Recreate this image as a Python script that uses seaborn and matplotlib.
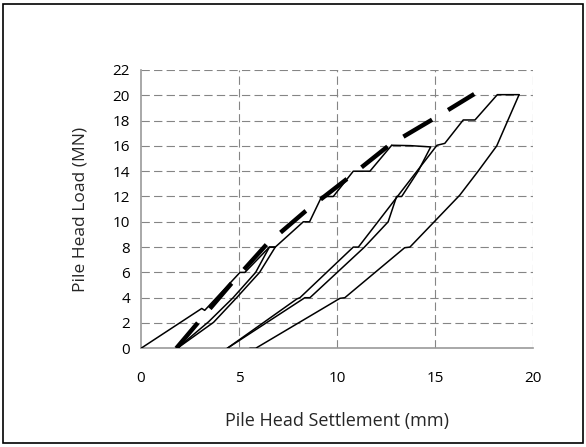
import matplotlib
matplotlib.use("Agg")
import matplotlib.pyplot as plt
import seaborn as sns
import pandas as pd
from matplotlib.patches import Rectangle

# ---- data (settlement mm, load MN) ----
load1_x = [0, 3.1, 3.25, 5.05, 5.3, 6.55, 6.85]
load1_y = [0, 3.15, 3.0, 6.0, 6.0, 8.0, 8.0]

unload1_x = [6.85, 6.05, 4.88, 3.7, 1.85]
unload1_y = [8.0, 6.0, 4.0, 2.05, 0]

reload2_x = [1.85, 3.45, 4.7, 5.85, 6.55, 6.85, 8.28, 8.6, 9.22, 9.81, 10.83, 11.68, 12.79]
reload2_y = [0, 2.1, 4.0, 6.0, 8.0, 8.0, 10.0, 10.0, 12.0, 12.0, 14.0, 14.0, 16.05]

unload2_x = [12.79, 13.75, 14.78, 14.14, 13.3, 13.04, 12.61, 11.4, 8.62, 8.36, 4.4]
unload2_y = [16.05, 16.02, 15.92, 14.0, 12.0, 12.0, 10.0, 8.0, 4.0, 4.0, 0]

reload3_x = [4.4, 7.95, 8.11, 10.83, 11.09, 15.1, 15.5, 16.44, 17.04, 18.18, 19.29]
reload3_y = [0, 3.9, 4.0, 8.0, 8.0, 16.05, 16.2, 18.05, 18.05, 20.05, 20.05]

unload3_x = [19.29, 18.74, 18.15, 17.2, 16.26, 13.72, 13.45, 10.4, 10.15, 5.85, 5.55]
unload3_y = [20.05, 18.1, 16.0, 14.0, 12.1, 8.0, 7.95, 4.0, 3.95, 0, 0]

model_x = [1.8, 3.0, 4.6, 6.4, 8.4, 10.6, 12.7, 15.1, 17.0]
model_y = [0, 2.2, 5.1, 8.2, 10.85, 13.5, 16.1, 18.3, 20.1]

x_ticks = [0, 5, 10, 15, 20]
y_ticks = [0, 2, 4, 6, 8, 10, 12, 14, 16, 18, 20, 22]

sns.set_style("white")
plt.rcParams['font.family'] = ['Open Sans', 'DejaVu Sans']

fig = plt.figure(figsize=(5.86, 4.47), dpi=100)
ax = fig.add_axes([141 / 586, 1 - 348.3 / 447, 392 / 586, 278.3 / 447])

grid_col = "#858585"
for xv in x_ticks[1:]:
    ax.axvline(xv, color=grid_col, lw=0.8, linestyle=(0, (7.5, 3.8)), zorder=0)
for yv in y_ticks[1:]:
    ax.axhline(yv, color=grid_col, lw=0.8, linestyle=(0, (7.5, 3.8)), zorder=0)

curves = [(load1_x, load1_y), (unload1_x, unload1_y), (reload2_x, reload2_y),
          (unload2_x, unload2_y), (reload3_x, reload3_y), (unload3_x, unload3_y)]
for cx, cy in curves:
    df = pd.DataFrame({"s": cx, "q": cy})
    sns.lineplot(data=df, x="s", y="q", sort=False, estimator=None, ax=ax,
                 color="black", lw=1.1, zorder=3)

dfm = pd.DataFrame({"s": model_x, "q": model_y})
sns.lineplot(data=dfm, x="s", y="q", sort=False, estimator=None, ax=ax,
             color="black", lw=3.2, zorder=4, dashes=False)
ax.lines[-1].set_linestyle((0, (7.5, 4.2)))
ax.lines[-1].set_dash_capstyle("butt")

ax.set_xlim(0, 20)
ax.set_ylim(0, 22)
ax.set_xticks(x_ticks)
ax.set_yticks(y_ticks)
ax.set_xticklabels([str(v) for v in x_ticks])
ax.set_yticklabels([str(v) for v in y_ticks])

for side in ["top", "right"]:
    ax.spines[side].set_visible(False)
for side in ["left", "bottom"]:
    ax.spines[side].set_color("#9a9a9a")
    ax.spines[side].set_linewidth(1.2)

ax.tick_params(axis="both", which="major", direction="out", length=4,
               width=0.8, color="#9a9a9a", labelsize=11, labelcolor="black")
ax.tick_params(axis="x", pad=12)
ax.tick_params(axis="y", pad=4)

ax.set_xlabel("Pile Head Settlement (mm)", fontsize=13)
ax.set_ylabel("Pile Head Load (MN)", fontsize=12.5)
ax.xaxis.set_label_coords(0.5, -0.229)
ax.yaxis.set_label_coords(-0.1327, 0.5)

fig.patches.append(Rectangle((3 / 586, 4 / 447), 580 / 586, 439 / 447,
                             transform=fig.transFigure, fill=False,
                             edgecolor="black", lw=1.2))

fig.savefig("out.png", dpi=100)
